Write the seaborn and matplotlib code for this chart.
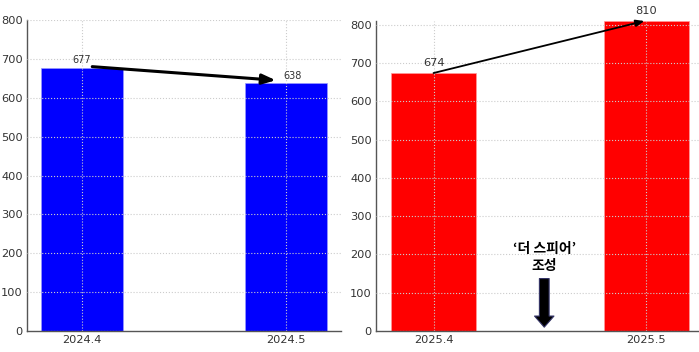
import matplotlib
matplotlib.use("Agg")
import matplotlib.pyplot as plt
import seaborn as sns
import pandas as pd

# data
months_2024 = ["2024.4", "2024.5"]
visitors_2024 = [677, 638]
months_2025 = ["2025.4", "2025.5"]
visitors_2025 = [674, 810]
note_text = "‘더 스피어’\n조성"

sns.set_style("white")
plt.rcParams['font.family'] = ['DejaVu Sans', 'Noto Sans CJK KR']

fig = plt.figure(figsize=(6.99, 3.52), dpi=100)
ax1 = fig.add_axes([27 / 699, 21 / 352, 314 / 699, 311 / 352])
ax2 = fig.add_axes([376 / 699, 21 / 352, 328 / 699, 310 / 352])

df1 = pd.DataFrame({"month": months_2024, "value": visitors_2024})
df2 = pd.DataFrame({"month": months_2025, "value": visitors_2025})

sns.barplot(data=df1, x="month", y="value", color="#0000ff", saturation=1,
            width=0.4, ax=ax1, edgecolor="#9999ff", linewidth=0.5)
sns.barplot(data=df2, x="month", y="value", color="#ff0000", saturation=1,
            width=0.4, ax=ax2, edgecolor="#ff9999", linewidth=0.5)

for ax, top in [(ax1, 800), (ax2, 810)]:
    ax.set_xlim(-0.27, 1.27)
    ax.set_ylim(0, top)
    ax.set_yticks(range(0, 801, 100))
    ax.set_xlabel("")
    ax.set_ylabel("")
    ax.grid(True, axis="both", linestyle=":", color="#cccccc", linewidth=0.8)
    ax.set_axisbelow(False)
    for b in ax.patches:
        b.set_zorder(1)
    for s in ["top", "right"]:
        ax.spines[s].set_visible(False)
    for s in ["left", "bottom"]:
        ax.spines[s].set_color("#555555")
        ax.spines[s].set_linewidth(1.0)
    ax.tick_params(axis="both", length=0, labelsize=8.2, colors="#333333", pad=3)

# left annotations
ax1.text(0, visitors_2024[0] + 6, str(visitors_2024[0]), ha="center", va="bottom",
         fontsize=7, color="#333333")
ax1.text(1.03, visitors_2024[1] + 6, str(visitors_2024[1]), ha="center", va="bottom",
         fontsize=7, color="#333333")
ax1.annotate("", xy=(0.95, visitors_2024[1] + 7), xytext=(0.05, visitors_2024[0] + 3),
             arrowprops=dict(arrowstyle="-|>,head_length=0.8,head_width=0.3",
                             color="black", lw=2.2, shrinkA=0, shrinkB=0))

# right annotations
ax2.text(0, visitors_2025[0] + 12, str(visitors_2025[0]), ha="center", va="bottom",
         fontsize=8.2, color="#333333")
ax2.text(1, visitors_2025[1] + 12, str(visitors_2025[1]), ha="center", va="bottom",
         fontsize=8.2, color="#333333", clip_on=False)
ax2.annotate("", xy=(0.99, visitors_2025[1]), xytext=(0, visitors_2025[0]),
             arrowprops=dict(arrowstyle="-|>,head_length=0.5,head_width=0.2",
                             color="black", lw=1.3, shrinkA=0, shrinkB=0),
             annotation_clip=False)

ax2.text(0.52, 152, note_text, ha="center", va="bottom", fontsize=10,
         fontweight="bold", color="black", linespacing=1.25,
         family=['Noto Sans CJK KR', 'DejaVu Sans'])
ax2.annotate("", xy=(0.52, 10), xytext=(0.52, 137),
             arrowprops=dict(arrowstyle="simple,head_length=0.8,head_width=1.4,tail_width=0.7",
                             fc="black", ec="#333366", lw=0.8, shrinkA=0, shrinkB=0))

fig.savefig("out.png", dpi=100)
